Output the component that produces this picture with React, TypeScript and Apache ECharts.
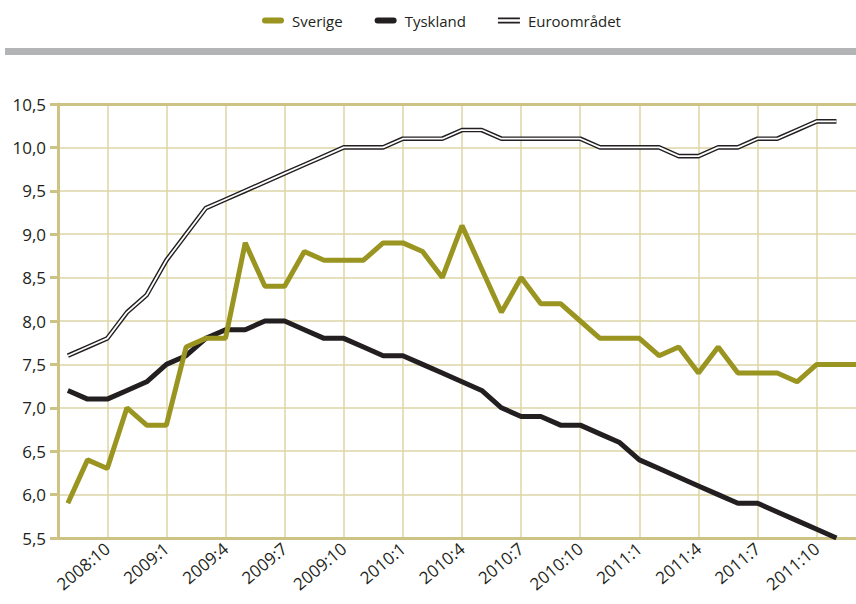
import React, { useEffect, useRef } from 'react';
import * as echarts from 'echarts';

const months = [
  '2008:8', '2008:9', '2008:10', '2008:11', '2008:12',
  '2009:1', '2009:2', '2009:3', '2009:4', '2009:5', '2009:6', '2009:7', '2009:8', '2009:9', '2009:10', '2009:11', '2009:12',
  '2010:1', '2010:2', '2010:3', '2010:4', '2010:5', '2010:6', '2010:7', '2010:8', '2010:9', '2010:10', '2010:11', '2010:12',
  '2011:1', '2011:2', '2011:3', '2011:4', '2011:5', '2011:6', '2011:7', '2011:8', '2011:9', '2011:10', '2011:11', '2011:12',
];

const sverige = [
  5.9, 6.4, 6.3, 7.0, 6.8, 6.8, 7.7, 7.8, 7.8, 8.9, 8.4, 8.4, 8.8, 8.7, 8.7, 8.7, 8.9,
  8.9, 8.8, 8.5, 9.1, 8.6, 8.1, 8.5, 8.2, 8.2, 8.0, 7.8, 7.8,
  7.8, 7.6, 7.7, 7.4, 7.7, 7.4, 7.4, 7.4, 7.3, 7.5, 7.5, 7.5,
];

const tyskland = [
  7.2, 7.1, 7.1, 7.2, 7.3, 7.5, 7.6, 7.8, 7.9, 7.9, 8.0, 8.0, 7.9, 7.8, 7.8, 7.7, 7.6,
  7.6, 7.5, 7.4, 7.3, 7.2, 7.0, 6.9, 6.9, 6.8, 6.8, 6.7, 6.6,
  6.4, 6.3, 6.2, 6.1, 6.0, 5.9, 5.9, 5.8, 5.7, 5.6, 5.5, null,
];

const euroomradet = [
  7.6, 7.7, 7.8, 8.1, 8.3, 8.7, 9.0, 9.3, 9.4, 9.5, 9.6, 9.7, 9.8, 9.9, 10.0, 10.0, 10.0,
  10.1, 10.1, 10.1, 10.2, 10.2, 10.1, 10.1, 10.1, 10.1, 10.1, 10.0, 10.0,
  10.0, 10.0, 9.9, 9.9, 10.0, 10.0, 10.1, 10.1, 10.2, 10.3, 10.3, null,
];

const seriesNames = ['Sverige', 'Tyskland', 'Euroområdet'];

const AXIS = '#cdc384';
const GRID = '#ddd6a4';
const TEXT = '#231f20';
const FONT = '"Open Sans", "Noto Sans", sans-serif';

export default function App() {
  const ref = useRef<HTMLDivElement>(null);

  useEffect(() => {
    if (!ref.current) return;
    const chart = echarts.init(ref.current, undefined, { renderer: 'svg' });
    const every3 = (i: number) => i % 3 === 2;
    chart.setOption({
      animation: false,
      textStyle: { fontFamily: FONT },
      graphic: [
        { type: 'rect', left: 5, top: 48, shape: { x: 0, y: 0, width: 861, height: 7 }, style: { fill: '#b3b4b6' }, silent: true },
      ],
      legend: {
        left: 262,
        top: 13,
        padding: 0,
        itemGap: 32,
        itemWidth: 22,
        itemHeight: 6,
        itemStyle: { borderWidth: 0 },
        textStyle: { fontSize: 15, color: TEXT, fontFamily: FONT, padding: [0, 0, 0, 3] },
        data: [
          { name: seriesNames[0], icon: 'path://M3,0H19A3,3 0 0 1 19,6H3A3,3 0 0 1 3,0Z' },
          { name: seriesNames[1], icon: 'path://M3,0H19A3,3 0 0 1 19,6H3A3,3 0 0 1 3,0Z' },
          { name: seriesNames[2], icon: 'path://M0,0H22V1.8H0Z M0,4.2H22V6H0Z' },
        ],
      },
      grid: { left: 58, top: 104, right: 0, bottom: 66, containLabel: false },
      xAxis: [
        {
          type: 'category',
          data: months,
          boundaryGap: true,
          axisLine: { show: true, lineStyle: { color: AXIS, width: 3 } },
          axisTick: { show: false },
          axisLabel: {
            interval: every3,
            rotate: 40,
            fontSize: 17,
            color: TEXT,
            margin: 8,
            fontFamily: FONT,
          },
          splitLine: {
            show: true,
            interval: every3,
            alignWithLabel: true,
            lineStyle: { color: GRID, width: 1.5 },
          },
        },
        {
          type: 'category',
          data: months,
          position: 'top',
          boundaryGap: true,
          axisLine: { show: true, onZero: false, lineStyle: { color: AXIS, width: 3 } },
          axisTick: { show: false },
          axisLabel: { show: false },
          splitLine: { show: false },
        },
      ],
      yAxis: {
        type: 'value',
        min: 5.5,
        max: 10.5,
        interval: 0.5,
        axisLine: { show: true, lineStyle: { color: AXIS, width: 3 } },
        axisTick: { show: true, length: 8, lineStyle: { color: AXIS, width: 3 } },
        axisLabel: {
          fontSize: 17,
          color: TEXT,
          margin: 12,
          fontFamily: FONT,
          formatter: (v: number) => v.toFixed(1).replace('.', ','),
        },
        splitLine: { show: true, lineStyle: { color: GRID, width: 1.5 } },
      },
      series: [
        {
          name: seriesNames[2],
          type: 'line',
          data: euroomradet,
          color: '#231f20',
          showSymbol: false,
          symbol: 'none',
          lineStyle: { color: '#231f20', width: 4.6 },
          z: 2,
        },
        {
          name: 'euro-inner',
          type: 'line',
          data: euroomradet,
          color: '#ffffff',
          showSymbol: false,
          symbol: 'none',
          lineStyle: { color: '#ffffff', width: 1.8 },
          z: 3,
        },
        {
          name: seriesNames[1],
          type: 'line',
          data: tyskland,
          color: '#231f20',
          showSymbol: false,
          symbol: 'none',
          lineStyle: { color: '#231f20', width: 5 },
          z: 4,
        },
        {
          name: seriesNames[0],
          type: 'line',
          data: sverige,
          color: '#9a9420',
          showSymbol: false,
          symbol: 'none',
          lineStyle: { color: '#9a9420', width: 5 },
          z: 5,
        },
      ],
    });
    return () => chart.dispose();
  }, []);

  return (
    <div
      ref={ref}
      style={{ position: 'fixed', left: 0, top: 0, width: 866, height: 604, background: '#ffffff' }}
    />
  );
}
